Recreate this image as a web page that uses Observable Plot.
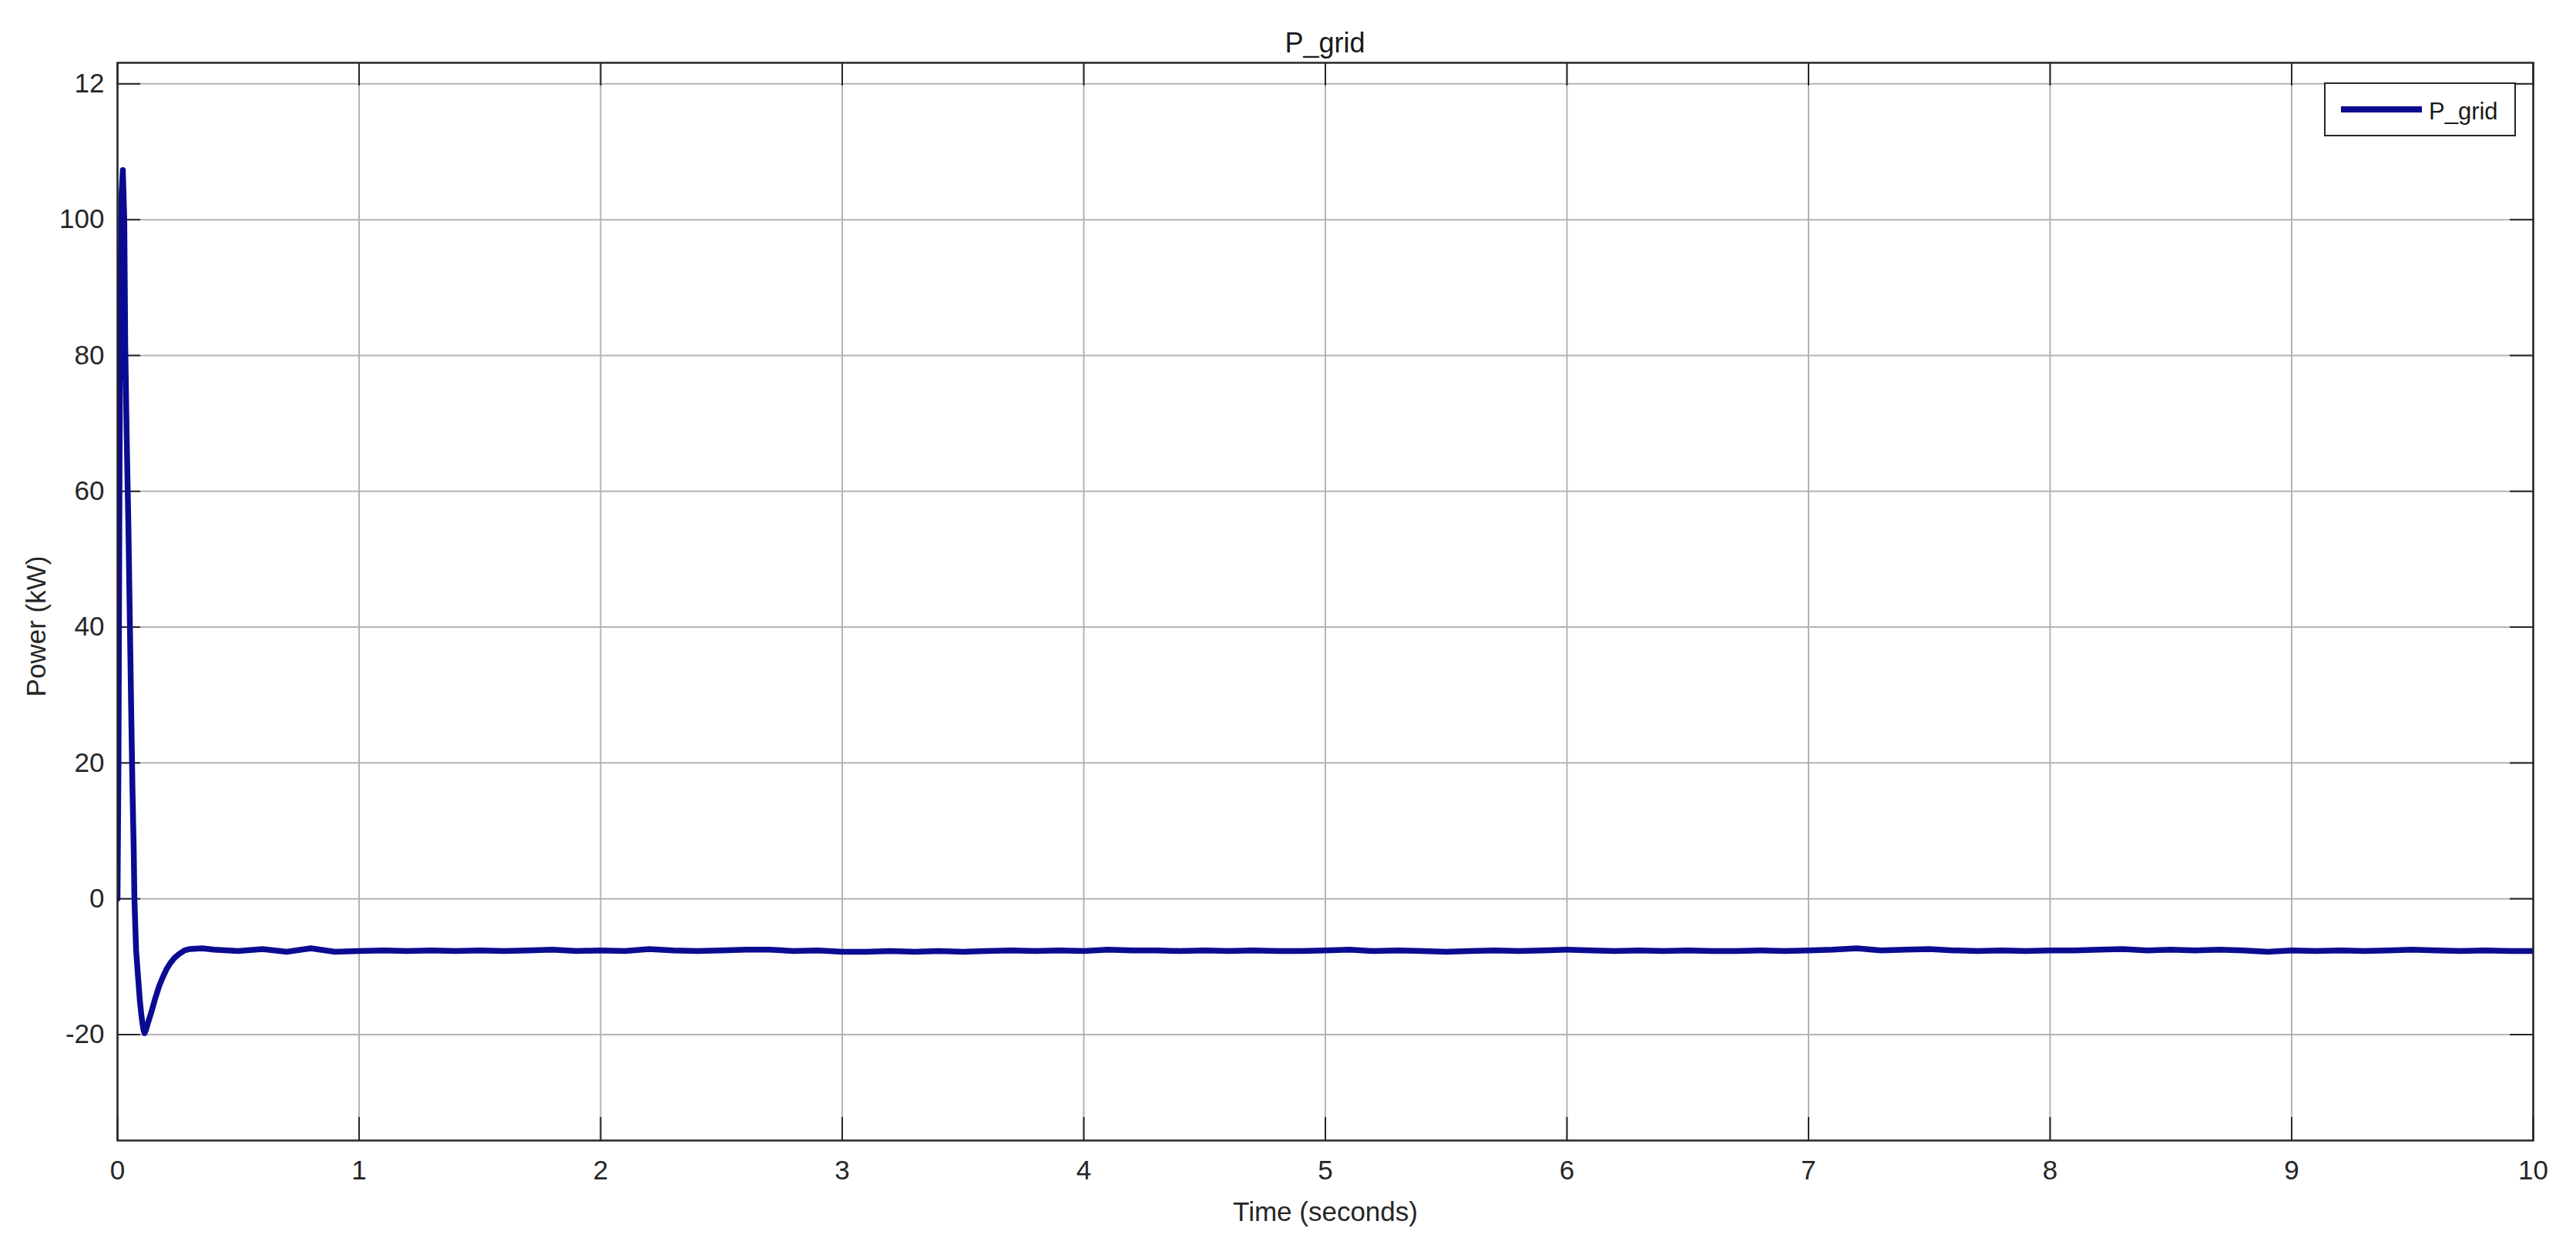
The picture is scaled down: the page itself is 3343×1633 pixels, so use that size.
<!DOCTYPE html>
<html>
<head>
<meta charset="utf-8">
<script src="https://cdn.jsdelivr.net/npm/d3@7"></script>
<script src="https://cdn.jsdelivr.net/npm/@observablehq/plot@0.6"></script>
<style>
  html, body { margin: 0; padding: 0; background: #ffffff; }
  svg { display: block; }
</style>
</head>
<body>
<div id="chart"></div>
<script>
// ---- data ----
const chartTitle = "P_grid";
const seriesName = "P_grid";
const xLabel = "Time (seconds)";
const yLabel = "Power (kW)";

const timeS = [
  0, 0.004, 0.008, 0.012, 0.017, 0.022, 0.028, 0.032, 0.038, 0.045, 0.051, 0.057, 0.062, 0.067, 0.07,
  0.077, 0.085, 0.093, 0.099, 0.104, 0.108, 0.112, 0.118, 0.125, 0.14, 0.155, 0.172,
  0.188, 0.204, 0.22, 0.236, 0.256, 0.278, 0.3, 0.35,
  0.4, 0.5, 0.6, 0.7, 0.8, 0.9, 1.0, 1.1, 1.2, 1.3, 1.4, 1.5, 1.6, 1.7, 1.8, 1.9,
  2.0, 2.1, 2.2, 2.3, 2.4, 2.5, 2.6, 2.7, 2.8, 2.9, 3.0, 3.1, 3.2, 3.3, 3.4, 3.5,
  3.6, 3.7, 3.8, 3.9, 4.0, 4.1, 4.2, 4.3, 4.4, 4.5, 4.6, 4.7, 4.8, 4.9, 5.0, 5.1,
  5.2, 5.3, 5.4, 5.5, 5.6, 5.7, 5.8, 5.9, 6.0, 6.1, 6.2, 6.3, 6.4, 6.5, 6.6, 6.7,
  6.8, 6.9, 7.0, 7.1, 7.2, 7.3, 7.4, 7.5, 7.6, 7.7, 7.8, 7.9, 8.0, 8.1, 8.2, 8.3,
  8.4, 8.5, 8.6, 8.7, 8.8, 8.9, 9.0, 9.1, 9.2, 9.3, 9.4, 9.5, 9.6, 9.7, 9.8, 9.9, 10.0
];
const powerKW = [
  0, 20, 60, 90, 104, 107.3, 100, 81.5, 68, 55, 41, 27, 16, 7.5, 0,
  -7.6, -11.5, -15.2, -17.2, -18.5, -19.4, -19.8, -19.3, -18.4, -16.7, -14.8, -12.9,
  -11.5, -10.3, -9.4, -8.7, -8.1, -7.6, -7.4, -7.3,
  -7.5, -7.7, -7.4, -7.8, -7.3, -7.8, -7.7, -7.6, -7.7, -7.6, -7.7, -7.6, -7.7, -7.6, -7.5, -7.7,
  -7.6, -7.7, -7.4, -7.6, -7.7, -7.6, -7.5, -7.5, -7.7, -7.6, -7.8, -7.8, -7.7, -7.8, -7.7, -7.8,
  -7.7, -7.6, -7.7, -7.6, -7.7, -7.5, -7.6, -7.6, -7.7, -7.6, -7.7, -7.6, -7.7, -7.7, -7.6, -7.5,
  -7.7, -7.6, -7.7, -7.8, -7.7, -7.6, -7.7, -7.6, -7.5, -7.6, -7.7, -7.6, -7.7, -7.6, -7.7, -7.7,
  -7.6, -7.7, -7.6, -7.5, -7.3, -7.6, -7.5, -7.4, -7.6, -7.7, -7.6, -7.7, -7.6, -7.6, -7.5, -7.4,
  -7.6, -7.5, -7.6, -7.5, -7.6, -7.8, -7.6, -7.7, -7.6, -7.7, -7.6, -7.5, -7.6, -7.7, -7.6, -7.7, -7.7
];

const xTickValues = [0, 1, 2, 3, 4, 5, 6, 7, 8, 9, 10];
const xTickLabels = ["0", "1", "2", "3", "4", "5", "6", "7", "8", "9", "10"];
const yTickValues = [-20, 0, 20, 40, 60, 80, 100, 120];
const yTickLabels = ["-20", "0", "20", "40", "60", "80", "100", "12"];
const xDomain = [0, 10];
const yDomain = [-35.6, 123.1];

// ---- layout / style ----
const W = 3343, H = 1633;
const mL = 152, mR = 56, mT = 81, mB = 153;
const innerW = W - mL - mR, innerH = H - mT - mB;
const font = "'Liberation Sans', Arial, Helvetica, sans-serif";
const lineColor = "#0b0b92";
const axisColor = "#262626";
const gridColor = "#b4b4b4";
const tickLen = 30;

const data = timeS.map((t, i) => ({t, p: powerKW[i]}));

const chart = Plot.plot({
  width: W,
  height: H,
  marginLeft: mL,
  marginRight: mR,
  marginTop: mT,
  marginBottom: mB,
  style: {fontFamily: font, background: "#ffffff", color: axisColor, overflow: "visible"},
  x: {domain: xDomain},
  y: {domain: yDomain},
  marks: [
    Plot.gridX(xTickValues, {stroke: gridColor, strokeOpacity: 1, strokeWidth: 2}),
    Plot.gridY(yTickValues, {stroke: gridColor, strokeOpacity: 1, strokeWidth: 2}),
    // inward tick marks on all four sides
    Plot.ruleY(yTickValues, {y: d => d, insetRight: innerW - tickLen, stroke: axisColor, strokeWidth: 2}),
    Plot.ruleY(yTickValues, {y: d => d, insetLeft: innerW - tickLen, stroke: axisColor, strokeWidth: 2}),
    Plot.ruleX(xTickValues, {x: d => d, insetTop: innerH - tickLen, stroke: axisColor, strokeWidth: 2}),
    Plot.ruleX(xTickValues, {x: d => d, insetBottom: innerH - tickLen, stroke: axisColor, strokeWidth: 2}),
    Plot.line(data, {x: "t", y: "p", stroke: lineColor, strokeWidth: 7.5, strokeLinejoin: "round", strokeLinecap: "round", clip: true}),
    Plot.frame({stroke: axisColor, strokeWidth: 2.5}),
    Plot.axisX(xTickValues, {
      tickSize: 0, tickPadding: 26, fontSize: 35, fill: axisColor,
      tickFormat: d => xTickLabels[xTickValues.indexOf(d)],
      label: xLabel, labelAnchor: "center", labelOffset: 104, labelArrow: "none"
    }),
    Plot.axisY(yTickValues, {
      tickSize: 0, tickPadding: 17, fontSize: 35, fill: axisColor,
      tickFormat: d => yTickLabels[yTickValues.indexOf(d)],
      label: yLabel, labelAnchor: "center", labelOffset: 118, labelArrow: "none"
    })
  ]
});

document.getElementById("chart").appendChild(chart);

// shift the y-axis label slightly below the frame centre, as in the reference
const svg = d3.select(chart);
svg.selectAll("g[aria-label='y-axis label']").each(function () {
  const g = d3.select(this);
  const t = g.attr("transform") || "";
  g.attr("transform", (t + " translate(0,32)").trim());
});

// ---- title and legend (decoration) ----
svg.append("text")
  .attr("x", mL + innerW / 2)
  .attr("y", 68)
  .attr("text-anchor", "middle")
  .attr("font-family", font)
  .attr("font-size", 36)
  .attr("fill", "#1a1a1a")
  .text(chartTitle);

const lg = svg.append("g");
lg.append("rect")
  .attr("x", 3017).attr("y", 108).attr("width", 247).attr("height", 68)
  .attr("fill", "#ffffff").attr("stroke", axisColor).attr("stroke-width", 2);
lg.append("line")
  .attr("x1", 3038).attr("x2", 3143).attr("y1", 142).attr("y2", 142)
  .attr("stroke", lineColor).attr("stroke-width", 8);
lg.append("text")
  .attr("x", 3152).attr("y", 155)
  .attr("text-anchor", "start")
  .attr("font-family", font).attr("font-size", 31).attr("fill", "#1a1a1a")
  .text(seriesName);
</script>
</body>
</html>
